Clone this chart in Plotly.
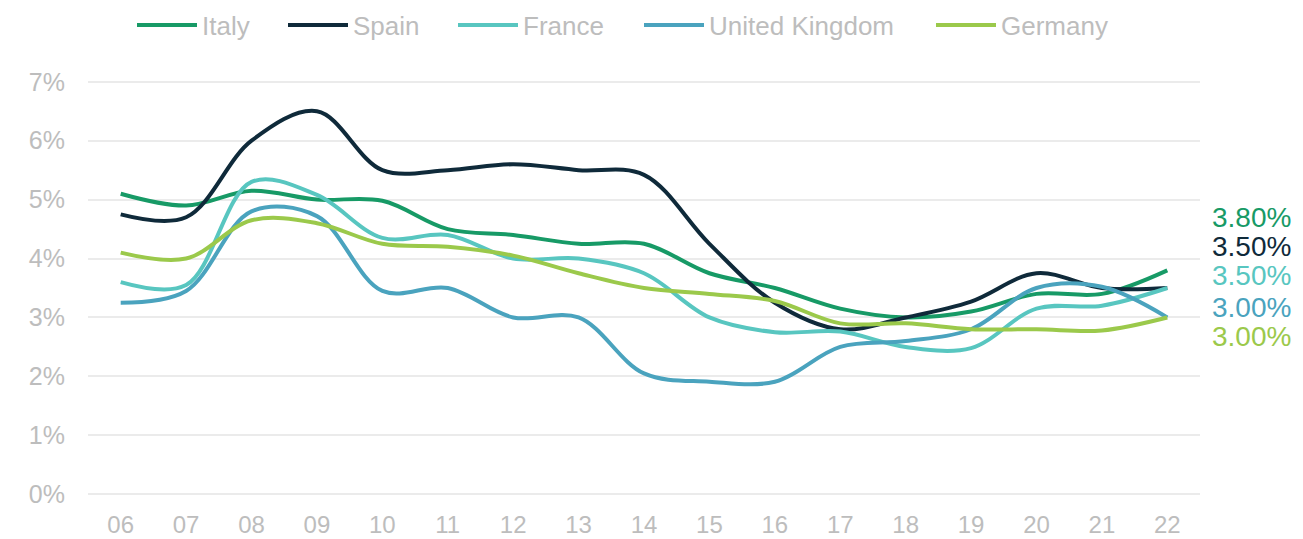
import plotly.graph_objects as go

years = ["06", "07", "08", "09", "10", "11", "12", "13", "14", "15", "16", "17", "18", "19", "20", "21", "22"]

italy = [5.1, 4.9, 5.15, 5.0, 4.98, 4.5, 4.4, 4.25, 4.25, 3.75, 3.5, 3.15, 3.0, 3.1, 3.4, 3.4, 3.8]
spain = [4.75, 4.7, 6.0, 6.5, 5.5, 5.5, 5.6, 5.5, 5.42, 4.25, 3.25, 2.8, 3.0, 3.27, 3.75, 3.5, 3.5]
france = [3.6, 3.55, 5.3, 5.08, 4.35, 4.4, 4.0, 4.0, 3.75, 3.0, 2.75, 2.76, 2.5, 2.48, 3.15, 3.2, 3.5]
uk = [3.25, 3.45, 4.8, 4.72, 3.45, 3.5, 3.0, 3.0, 2.05, 1.91, 1.91, 2.5, 2.6, 2.8, 3.5, 3.52, 3.0]
germany = [4.1, 4.0, 4.65, 4.6, 4.25, 4.2, 4.05, 3.75, 3.5, 3.4, 3.28, 2.9, 2.9, 2.8, 2.8, 2.78, 3.0]

series_names = ["Italy", "Spain", "France", "United Kingdom", "Germany"]
series_values = [italy, spain, france, uk, germany]
end_labels = ["3.80%", "3.50%", "3.50%", "3.00%", "3.00%"]
y_tickvals = [0, 1, 2, 3, 4, 5, 6, 7]
y_ticktext = ["0%", "1%", "2%", "3%", "4%", "5%", "6%", "7%"]

colors = ["#179a66", "#0f2a3a", "#58c6c0", "#4aa3be", "#9bc94b"]
label_yshift = [53, 42, 13, 10, -19]
legend_left_px = [132, 283, 453, 639, 931]

FONT = "Liberation Sans, Arial, sans-serif"
GREY = "#bdbdbd"
W, H = 1303, 539

fig = go.Figure()
legend_ids = ["legend", "legend2", "legend3", "legend4", "legend5"]
for name, vals, col, lid in zip(series_names, series_values, colors, legend_ids):
    fig.add_trace(go.Scatter(
        x=years, y=vals, name=name, mode="lines",
        line=dict(color=col, width=4, shape="spline", smoothing=1.0),
        hoverinfo="skip", legend=lid,
    ))

for vals, lab, col, ys in zip(series_values, end_labels, colors, label_yshift):
    fig.add_annotation(
        x=1, y=vals[-1], xref="paper", yref="y",
        text=lab, showarrow=False, xanchor="left", yanchor="middle",
        xshift=11, yshift=ys, borderpad=0,
        font=dict(family=FONT, size=28, color=col),
    )

legend_layout = {}
for lid, lx in zip(legend_ids, legend_left_px):
    legend_layout[lid] = dict(
        orientation="h", xref="container", yref="container",
        x=lx / W, y=1 - 25 / H, xanchor="left", yanchor="middle",
        font=dict(family=FONT, size=26, color=GREY),
        itemwidth=60, bgcolor="rgba(0,0,0,0)",
    )

fig.update_layout(
    width=W, height=H,
    margin=dict(l=88, r=103, t=80, b=43, autoexpand=False),
    paper_bgcolor="white", plot_bgcolor="white",
    font=dict(family=FONT, size=26, color=GREY),
    showlegend=True,
    xaxis=dict(
        type="category", range=[-0.5, 16.5], automargin=False,
        showgrid=False, zeroline=False, showline=False,
        ticks="", tickfont=dict(family=FONT, size=24, color=GREY),
        ticklabelstandoff=12,
    ),
    yaxis=dict(
        range=[-0.03, 7.03], tickvals=y_tickvals, ticktext=y_ticktext,
        automargin=False,
        showgrid=True, gridcolor="#ebebeb", gridwidth=2,
        zeroline=True, zerolinecolor="#ebebeb", zerolinewidth=2,
        showline=False, ticks="",
        tickfont=dict(family=FONT, size=25, color=GREY),
        ticklabelstandoff=22,
    ),
    **legend_layout,
)

fig.write_html("out.html", config={"displayModeBar": False},
               post_script="document.body.style.margin='0px';")
